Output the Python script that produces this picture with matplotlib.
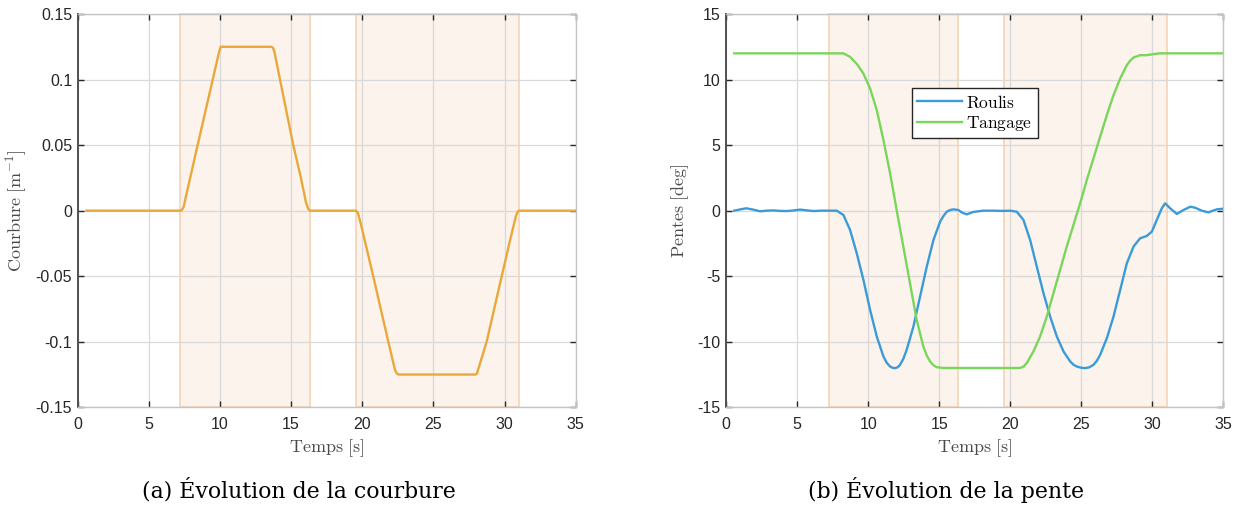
import matplotlib
matplotlib.use("Agg")
import matplotlib.pyplot as plt

# ---------------- data ----------------
t_courbure = [0.6, 7.25, 7.35, 7.45, 7.6, 8.43, 9.49, 9.95, 10.05, 13.63, 13.72, 13.82,
              14.22, 15.15, 15.67, 16.05, 16.2, 16.32, 19.56, 19.7, 19.9, 20.77, 21.3,
              21.83, 22.3, 22.45, 22.58, 27.95, 28.06, 28.15, 28.74, 29.27, 29.8, 30.4,
              30.8, 30.92, 31.0, 35.0]
courbure = [0.0, 0.0, 0.001, 0.003, 0.0105, 0.05, 0.1, 0.1216, 0.125, 0.125, 0.1243, 0.1215,
            0.1, 0.05, 0.026, 0.006, 0.0015, 0.0, 0.0, -0.002, -0.01, -0.05, -0.075,
            -0.1, -0.1215, -0.1245, -0.125, -0.125, -0.1243, -0.121, -0.1, -0.075, -0.05,
            -0.022, -0.004, -0.001, 0.0, 0.0]

t_roulis = [0.56, 1.0, 1.41, 1.9, 2.39, 2.85, 3.33, 3.8, 4.27, 4.75, 5.2, 5.7, 6.15, 6.7, 7.31,
            7.78, 8.25, 8.72, 9.19, 9.66, 10.13, 10.6, 11.07, 11.3, 11.54, 11.72, 11.89,
            12.06, 12.24, 12.47, 12.71, 13.18, 13.65, 14.12, 14.59, 15.06, 15.3, 15.53,
            15.77, 16.0, 16.35, 16.6, 16.93, 17.4, 18.1, 18.8, 19.52, 19.99, 20.46, 20.93,
            21.4, 21.87, 22.34, 22.81, 23.28, 23.75, 24.22, 24.45, 24.69, 24.98, 25.27,
            25.56, 25.86, 26.1, 26.33, 26.8, 27.27, 27.74, 28.21, 28.68, 29.14, 29.61,
            29.97, 30.32, 30.67, 30.91, 31.26, 31.73, 32.2, 32.67, 33.01, 33.48, 33.95,
            34.54, 35.0]
roulis = [0.0, 0.1, 0.18, 0.08, -0.05, 0.0, 0.02, -0.02, -0.03, 0.02, 0.08, 0.02, -0.03,
          0.0, 0.0, 0.0, -0.33, -1.47, -3.25, -5.28, -7.57, -9.6, -11.13, -11.6, -11.89,
          -11.99, -12.01, -11.95, -11.76, -11.3, -10.6, -8.84, -6.55, -4.27, -2.24, -0.84,
          -0.4, -0.08, 0.05, 0.1, 0.05, -0.15, -0.28, -0.1, 0.0, 0.0, -0.02, 0.0, -0.08,
          -0.71, -2.24, -4.27, -6.3, -8.08, -9.6, -10.74, -11.5, -11.75, -11.89, -11.98,
          -12.01, -11.95, -11.76, -11.45, -11.0, -9.73, -8.08, -6.05, -4.01, -2.74, -2.11,
          -1.93, -1.6, -0.71, 0.18, 0.56, 0.18, -0.25, 0.05, 0.3, 0.23, 0.0, -0.13, 0.1,
          0.15]

t_tangage = [0.56, 7.31, 8.25, 8.72, 9.19, 9.66, 10.13, 10.6, 11.07, 11.54, 12.0, 12.47,
             12.94, 13.41, 13.88, 14.12, 14.35, 14.6, 14.82, 15.29, 20.69, 20.93, 21.16,
             21.63, 22.1, 22.57, 23.04, 23.51, 23.98, 24.45, 24.92, 25.39, 25.86, 26.33,
             26.8, 27.27, 27.74, 28.0, 28.21, 28.45, 28.68, 29.14, 29.61, 30.08, 30.55,
             31.02, 35.0]
tangage = [12.0, 12.0, 12.0, 11.73, 11.2, 10.46, 9.32, 7.67, 5.38, 2.84, 0.05, -2.74,
           -5.54, -8.33, -10.36, -11.05, -11.5, -11.8, -11.94, -12.0, -12.0, -11.9, -11.63,
           -10.74, -9.6, -8.08, -6.3, -4.52, -2.74, -1.09, 0.56, 2.34, 3.99, 5.64, 7.29,
           8.81, 10.08, 10.65, 11.1, 11.45, 11.68, 11.86, 11.86, 11.94, 12.0, 12.0, 12.0]

zones = [(7.21, 16.32), (19.56, 31.03)]

xticks = [0, 5, 10, 15, 20, 25, 30, 35]
yticks_a = [-0.15, -0.1, -0.05, 0, 0.05, 0.1, 0.15]
yticklabels_a = ["-0.15", "-0.1", "-0.05", "0", "0.05", "0.1", "0.15"]
yticks_b = [-15, -10, -5, 0, 5, 10, 15]

# ---------------- style ----------------
plt.rcParams["font.family"] = ["Liberation Sans", "DejaVu Sans"]
plt.rcParams["mathtext.fontset"] = "cm"
plt.rcParams["axes.unicode_minus"] = False

C_ORANGE = "#EAA83A"
C_BLUE = "#3A9BD8"
C_GREEN = "#7AD65A"
FILL = "#FBF3EC"
EDGE = "#F6D9BD"
TICKC = "#262626"
LABC = "#4a4a4a"

fig = plt.figure(figsize=(12.37, 5.08), dpi=100)
ax1 = fig.add_axes([0.0628, 0.1982, 0.4026, 0.7742])
ax2 = fig.add_axes([0.5871, 0.1982, 0.4018, 0.7742])


def style(ax, ylim, yticks, ylabels, ylabel, ylabel_x):
    ax.set_xlim(0, 35)
    ax.set_ylim(*ylim)
    ax.set_xticks(xticks)
    ax.set_yticks(yticks)
    if ylabels is not None:
        ax.set_yticklabels(ylabels)
    ax.tick_params(direction="in", length=4, width=1, colors=TICKC, labelsize=11.5,
                   top=True, right=True)
    ax.tick_params(axis="x", pad=7)
    ax.tick_params(axis="y", pad=4)
    ax.grid(True, color="#d9d9d9", linewidth=0.9)
    ax.set_axisbelow("line")
    for s in ["top", "right", "bottom"]:
        ax.spines[s].set_color("#c4c4c4")
        ax.spines[s].set_linewidth(1.0)
    ax.spines["left"].set_color("#505050")
    ax.spines["left"].set_linewidth(1.4)
    ax.set_xlabel(r"$\mathrm{Temps\ [s]}$", fontsize=13, color=LABC)
    ax.xaxis.set_label_coords(0.5, -0.076)
    ax.set_ylabel(ylabel, fontsize=13, color=LABC)
    ax.yaxis.set_label_coords(ylabel_x, 0.5)
    for (a, b) in zones:
        ax.axvspan(a, b, facecolor=FILL, edgecolor=EDGE, linewidth=1.4, zorder=1)
    ax.plot([zones[0][0], zones[-1][1]], [ylim[1], ylim[1]], color=EDGE, lw=1.4,
            zorder=1.2, clip_on=False)


style(ax1, (-0.15, 0.15), yticks_a, yticklabels_a, r"$\mathrm{Courbure\ [m^{-1}]}$", -0.097)
style(ax2, (-15, 15), yticks_b, None, r"$\mathrm{Pentes\ [deg]}$", -0.07)

ax1.plot(t_courbure, courbure, color=C_ORANGE, lw=1.7, zorder=3)

ax2.plot(t_roulis, roulis, color=C_BLUE, lw=1.7, zorder=3, label=r"$\mathrm{Roulis}$")
ax2.plot(t_tangage, tangage, color=C_GREEN, lw=1.7, zorder=3, label=r"$\mathrm{Tangage}$")
leg = ax2.legend(loc="upper left", bbox_to_anchor=(0.373, 0.811), borderaxespad=0,
                 fontsize=12.5, handlelength=2.6, handletextpad=0.25, borderpad=0.3,
                 labelspacing=0.2, fancybox=False, framealpha=1, edgecolor="#262626")
leg.get_frame().set_linewidth(1.0)
leg.set_zorder(5)

fig.text(0.2418, 1 - 490 / 508, "(a) Évolution de la courbure", ha="center", va="center",
         fontsize=15.8, family=["DejaVu Serif"], color="black")
fig.text(0.7652, 1 - 490 / 508, "(b) Évolution de la pente", ha="center", va="center",
         fontsize=15.8, family=["DejaVu Serif"], color="black")

fig.savefig("out.png", dpi=100)
